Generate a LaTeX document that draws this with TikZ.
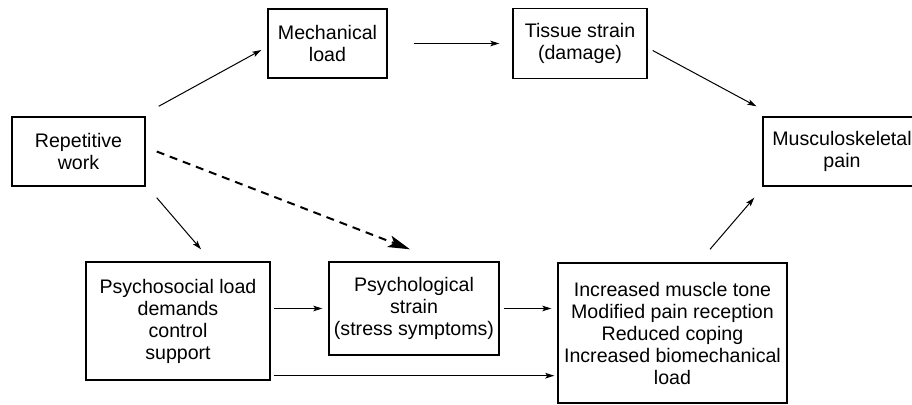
\documentclass[tikz,border=0pt]{standalone}
\usepackage{fontspec}
\setmainfont{Liberation Sans}
\usetikzlibrary{arrows.meta,positioning}

\begin{document}
\begin{tikzpicture}[x=0.5pt,y=-0.5pt,
    box/.style={rectangle,draw,line width=0.7pt,inner sep=0pt,align=center,
      font=\fontsize{9.8pt}{11pt}\selectfont},
    arr/.style={-{Stealth[length=4.5pt,width=2.8pt,inset=1pt]},line width=0.5pt},
    dasharr/.style={-{Stealth[length=11pt,width=6pt,inset=2.5pt]},line width=1pt,
      dash pattern=on 4pt off 3pt}]

  \useasboundingbox (0,0) rectangle (912,405);
  \clip (0,0) rectangle (912,405);

      %% top row
      \node (Rep) [box, minimum width=66.5pt, minimum height=34.5pt] at (78.5,151.5) {Repetitive\\work};
      \node (Mech) [box, minimum width=59.5pt, minimum height=34.5pt] at (327.5,43.5) {Mechanical\\load};
      \node (Tissue) [box, minimum width=67pt, minimum height=35pt, node distance=126.25pt, right of=Mech] {Tissue strain\\(damage)};
      \node (Musc) [box, minimum width=79pt, minimum height=34.5pt, node distance=381.75pt, right of=Rep] {Musculoskeletal\\pain};

      %% bottom row
      \node (Social) [box, minimum width=92pt, minimum height=59pt] at (178,321) {Psychosocial load\\demands\\control\\support};
      \node (Strain) [box, minimum width=85pt, minimum height=46.5pt] at (414,308.5) {Psychological\\strain\\(stress symptoms)};
      \node (Effects) [box, minimum width=114.5pt, minimum height=70pt] at (672.5,333) {Increased muscle tone\\Modified pain reception\\Reduced coping\\Increased biomechanical\\load};

      %% connectors
      \draw[arr] ([shift={(13,-10)}]Rep.north east) -- ([shift={(-6,6.5)}]Mech.west);
      \draw[arr, shorten <=13pt, shorten >=6.5pt] (Mech.east) -- (Tissue.west);
      \draw[arr] ([shift={(5,7)}]Tissue.east) -- ([shift={(-6,-10)}]Musc.north west);
      \draw[arr] ([shift={(11,11)}]Rep.south east) -- ([shift={(23,-12)}]Social.north);
      \draw[dasharr] ([shift={(11,0)}]Rep.east) -- ([shift={(-4,-12)}]Strain.north);
      \draw[arr, shorten <=1.5pt, shorten >=3pt] (Social.east |- Strain.west) -- (Strain.west);
      \draw[arr, shorten <=2pt, shorten >=3pt] (Strain.east) -- (Strain.east -| Effects.west);
      \draw[arr, shorten >=3pt] ([shift={(3,-5)}]Social.south east) -- ([shift={(3,-5)}]Social.south east -| Effects.west);
      \draw[arr] ([shift={(37.5,-13)}]Effects.north) -- ([shift={(-8,11)}]Musc.south west);

\end{tikzpicture}
\end{document}
